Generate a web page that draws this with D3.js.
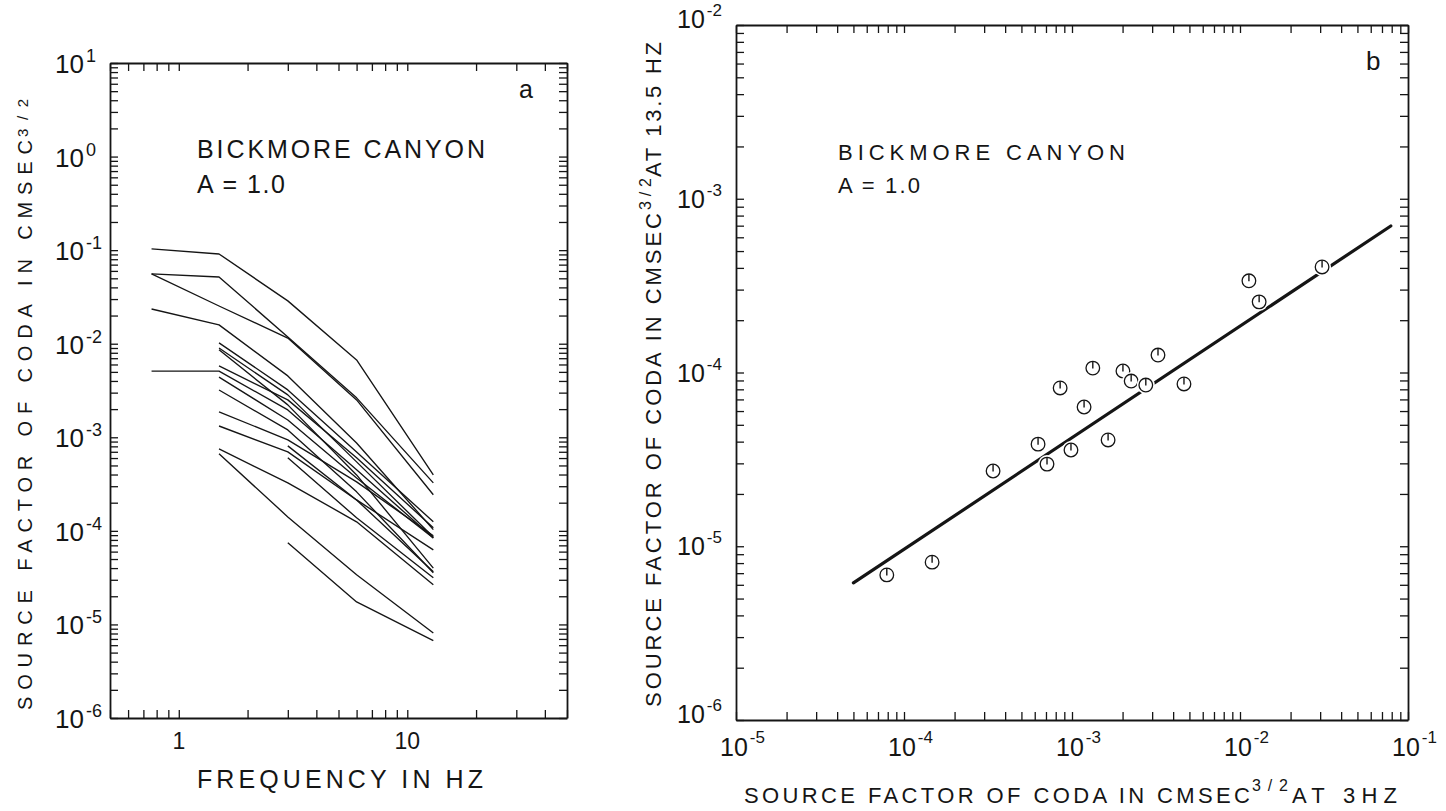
<!DOCTYPE html>
<html><head><meta charset="utf-8">
<script src="https://cdn.jsdelivr.net/npm/d3@7"></script>
<style>
body{margin:0;background:#fff;}
svg{display:block;background:#fff;}
text{font-family:"Liberation Sans", Arial, sans-serif; fill:#151515;}
</style></head><body>
<svg id="c" width="1446" height="811"></svg>
<script>
// ---------- Panel a: source factor vs frequency ----------
const freqHz = [0.76, 1.5, 3, 6, 13];
const sourceFactorSeries = [
  [0.103,  0.091,   0.0287,  0.0067,  3.96e-4],
  [0.0557, 0.0517,  0.0118,  0.00264, 3.26e-4],
  [0.0557, 0.0253,  0.0115,  0.00251, 2.43e-4],
  [0.0235, 0.0159,  0.00453, 8.7e-4,  1.03e-4],
  [0.0051, 0.0051,  0.00196, 4.49e-4, 8.4e-5],
  [null,   0.0102,  0.00321, 6.98e-4, 1.25e-4],
  [null,   0.0090,  0.00284, 5.46e-4, 8.6e-5],
  [null,   0.0086,  0.00222, 3.96e-4, 4.0e-5],
  [null,   0.0058,  0.00251, 6.03e-4, 1.08e-4],
  [null,   0.0044,  0.00153, 3.68e-4, 8.4e-5],
  [null,   0.0032,  0.00120, 2.61e-4, 3.56e-5],
  [null,   0.00187, 9.4e-4,  3.34e-4, 8.85e-5],
  [null,   0.00132, 6.98e-4, 2.14e-4, 6.27e-5],
  [null,   7.52e-4, 3.26e-4, 1.25e-4, 2.65e-5],
  [null,   6.65e-4, 1.41e-4, 3.39e-5, 8.1e-6],
  [null,   null,    8.1e-4,  2.14e-4, 3.65e-5],
  [null,   null,    6.03e-4, 1.38e-4, 3.15e-5],
  [null,   null,    7.45e-5, 1.74e-5, 6.7e-6]
];
const xDomainA = [0.5, 50];
const yDomainA = [1e-6, 10];
const xTickLabelsA = [1, 10];
const yTickExpA = [1, 0, -1, -2, -3, -4, -5, -6];

// ---------- Panel b: 13.5 Hz vs 3 Hz ----------
const coda3Hz  = [7.9e-5, 1.47e-4, 3.39e-4, 6.28e-4, 7.1e-4, 9.86e-4, 8.5e-4, 1.18e-3, 1.33e-3,
                  1.64e-3, 2.01e-3, 2.25e-3, 2.75e-3, 3.25e-3, 4.64e-3, 1.13e-2, 1.30e-2, 3.08e-2];
const coda13Hz = [6.84e-6, 8.1e-6, 2.71e-5, 3.87e-5, 2.97e-5, 3.58e-5, 8.15e-5, 6.33e-5, 1.06e-4,
                  4.09e-5, 1.02e-4, 8.93e-5, 8.47e-5, 1.26e-4, 8.59e-5, 3.37e-4, 2.55e-4, 4.05e-4];
const fitX = [5.0e-5, 0.079];
const fitY = [6.15e-6, 6.97e-4];
const xDomainB = [1e-5, 1e-1];
const yDomainB = [1e-6, 1e-2];
const xTickExpB = [-5, -4, -3, -2, -1];
const yTickExpB = [-2, -3, -4, -5, -6];

// ---------- drawing ----------
const svg = d3.select("#c");
const ink = "#151515";

function logTicks(dom) {
  const out = [];
  const e0 = Math.floor(Math.log10(dom[0])), e1 = Math.ceil(Math.log10(dom[1]));
  for (let e = e0; e <= e1; e++)
    for (let m = 1; m <= 9; m++) {
      const v = m * Math.pow(10, e);
      if (v >= dom[0] * 0.999 && v <= dom[1] * 1.001) out.push(v);
    }
  return out;
}

function frame(g, x, y) {
  const [x0, x1] = x.range(), [y0, y1] = y.range();
  const tx = logTicks(x.domain()), ty = logTicks(y.domain());
  const mk = (axis, tr) => {
    const a = g.append("g").attr("transform", tr)
      .call(axis.tickSize(-8).tickSizeOuter(0).tickFormat(""));
    a.select(".domain").attr("stroke", ink).attr("stroke-width", 1.8);
    a.selectAll(".tick line").attr("stroke", ink).attr("stroke-width", 1.3);
  };
  mk(d3.axisBottom(x).tickValues(tx), `translate(0,${y0})`);
  mk(d3.axisTop(x).tickValues(tx), `translate(0,${y1})`);
  mk(d3.axisLeft(y).tickValues(ty), `translate(${x0},0)`);
  mk(d3.axisRight(y).tickValues(ty), `translate(${x1},0)`);
}

function powLabel(g, x, y, exp, fs, fsSup, supDy, anchor) {
  const t = g.append("text").attr("x", x).attr("y", y)
    .attr("font-size", fs).attr("text-anchor", anchor || "start");
  t.append("tspan").text("10");
  t.append("tspan").attr("dx", 2).attr("dy", supDy).attr("font-size", fsSup)
    .text(exp < 0 ? "-" + (-exp) : String(exp));
  return t;
}

// ===== Panel a =====
const xA = d3.scaleLog().domain(xDomainA).range([110, 567]);
const yA = d3.scaleLog().domain(yDomainA).range([718, 63]);
const gA = svg.append("g");
frame(gA, xA, yA);

const lineA = d3.line()
  .defined(d => d[1] !== null)
  .x(d => xA(d[0])).y(d => yA(d[1]));
gA.append("g").selectAll("path").data(sourceFactorSeries).join("path")
  .attr("d", s => lineA(s.map((v, i) => [freqHz[i], v])))
  .attr("fill", "none").attr("stroke", ink).attr("stroke-width", 1.35)
  .attr("stroke-linejoin", "round");

yTickExpA.forEach(e => powLabel(gA, 55, yA(Math.pow(10, e)) + 10, e, 26, 18, -11));
xTickLabelsA.forEach(v => gA.append("text").attr("x", xA(v)).attr("y", 749)
  .attr("font-size", 23).attr("text-anchor", "middle").text(String(v)));

gA.append("text").attr("x", 197).attr("y", 158).attr("font-size", 25)
  .attr("textLength", 288).attr("lengthAdjust", "spacing").text("BICKMORE CANYON");
gA.append("text").attr("x", 197).attr("y", 193).attr("font-size", 25)
  .attr("textLength", 88).attr("lengthAdjust", "spacing").text("A = 1.0");
gA.append("text").attr("x", 519).attr("y", 98).attr("font-size", 25).text("a");

gA.append("text").attr("x", 197).attr("y", 788).attr("font-size", 25)
  .attr("textLength", 286).attr("lengthAdjust", "spacing").text("FREQUENCY IN HZ");

const ytA = gA.append("g").attr("transform", "translate(32,710) rotate(-90)");
ytA.append("text").attr("x", 0).attr("y", 0).attr("font-size", 20)
  .attr("textLength", 570).attr("lengthAdjust", "spacing").text("SOURCE FACTOR OF CODA IN CMSEC");
ytA.append("text").attr("x", 573).attr("y", -4).attr("font-size", 15)
  .attr("textLength", 38).attr("lengthAdjust", "spacing").text("3/2");

// ===== Panel b =====
const xB = d3.scaleLog().domain(xDomainB).range([736, 1408]);
const yB = d3.scaleLog().domain(yDomainB).range([720, 25]);
const gB = svg.append("g");
frame(gB, xB, yB);

gB.append("line")
  .attr("x1", xB(fitX[0])).attr("y1", yB(fitY[0]))
  .attr("x2", xB(fitX[1])).attr("y2", yB(fitY[1]))
  .attr("stroke", ink).attr("stroke-width", 3.2).attr("stroke-linecap", "round");

const pts = coda3Hz.map((v, i) => [v, coda13Hz[i]]);
const pg = gB.append("g").selectAll("g").data(pts).join("g")
  .attr("transform", d => `translate(${xB(d[0])},${yB(d[1])})`);
pg.append("circle").attr("r", 9).attr("fill", "#fff");
pg.append("circle").attr("r", 6.8).attr("fill", "#fff").attr("stroke", ink).attr("stroke-width", 1.3);
pg.append("line").attr("x1", 0).attr("x2", 0).attr("y1", -6.8).attr("y2", 0.5)
  .attr("stroke", ink).attr("stroke-width", 1.4);

yTickExpB.forEach((e, i) => {
  const edge = (i === 0 || i === yTickExpB.length - 1) ? 6 : 0;
  powLabel(gB, 677, yB(Math.pow(10, e)) + 9 - edge, e, 25, 17, -12);
});
xTickExpB.forEach(e => powLabel(gB, xB(Math.pow(10, e)) - 16, 756, e, 25, 17, -13));

gB.append("text").attr("x", 838).attr("y", 160).attr("font-size", 22)
  .attr("textLength", 287).attr("lengthAdjust", "spacing").text("BICKMORE CANYON");
gB.append("text").attr("x", 838).attr("y", 193).attr("font-size", 22)
  .attr("textLength", 82).attr("lengthAdjust", "spacing").text("A = 1.0");
gB.append("text").attr("x", 1366).attr("y", 70).attr("font-size", 26).text("b");

// x title
gB.append("text").attr("x", 744).attr("y", 803).attr("font-size", 22)
  .attr("textLength", 506).attr("lengthAdjust", "spacing").text("SOURCE FACTOR OF CODA IN CMSEC");
gB.append("text").attr("x", 1252).attr("y", 791).attr("font-size", 16)
  .attr("textLength", 36).attr("lengthAdjust", "spacing").text("3/2");
gB.append("text").attr("x", 1292).attr("y", 803).attr("font-size", 22)
  .attr("textLength", 105).attr("lengthAdjust", "spacing").text("AT 3HZ");

// y title
const ytB = gB.append("g").attr("transform", "translate(661,707) rotate(-90)");
ytB.append("text").attr("x", 0).attr("y", 0).attr("font-size", 22)
  .attr("textLength", 494).attr("lengthAdjust", "spacing").text("SOURCE FACTOR OF CODA IN CMSEC");
ytB.append("text").attr("x", 497).attr("y", -10).attr("font-size", 16)
  .attr("textLength", 32).attr("lengthAdjust", "spacing").text("3/2");
ytB.append("text").attr("x", 530).attr("y", 0).attr("font-size", 22)
  .attr("textLength", 135).attr("lengthAdjust", "spacing").text("AT 13.5 HZ");
</script>
</body></html>
